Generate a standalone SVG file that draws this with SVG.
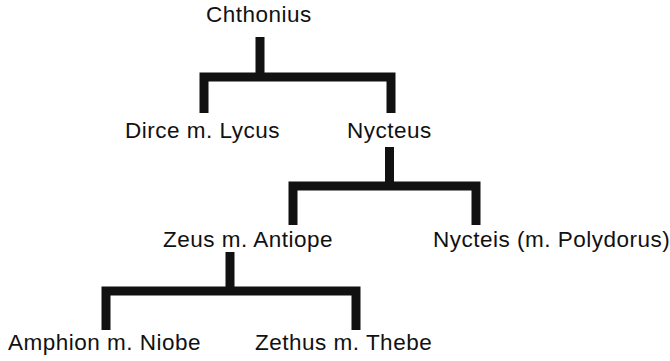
<svg xmlns="http://www.w3.org/2000/svg" width="670" height="361" viewBox="0 0 670 361">
<style>
.t{font-family:"Liberation Sans",Arial,sans-serif;font-size:22.5px;letter-spacing:0.5px;fill:#111}
.c{fill:none;stroke:#111;stroke-width:9;stroke-linecap:butt;stroke-linejoin:miter}
</style>
<rect width="670" height="361" fill="#fff"/>
<g id="connectors">
<path class="c" d="M260,37V77M204,113V77H391V113"/>
<path class="c" d="M389.5,147V186M293,225V186H476V225"/>
<path class="c" d="M230,252V291M106,330V291H356V330"/>
</g>
<g id="chthonius"><text class="t" x="206" y="22">Chthonius</text></g>
<g id="dirce"><text class="t" x="125" y="138">Dirce m. Lycus</text></g>
<g id="nycteus"><text class="t" x="347" y="138">Nycteus</text></g>
<g id="zeus"><text class="t" x="163" y="247">Zeus m. Antiope</text></g>
<g id="nycteis"><text class="t" x="433" y="247">Nycteis (m. Polydorus)</text></g>
<g id="amphion"><text class="t" x="8" y="350">Amphion m. Niobe</text></g>
<g id="zethus"><text class="t" x="255" y="350">Zethus m. Thebe</text></g>
</svg>
